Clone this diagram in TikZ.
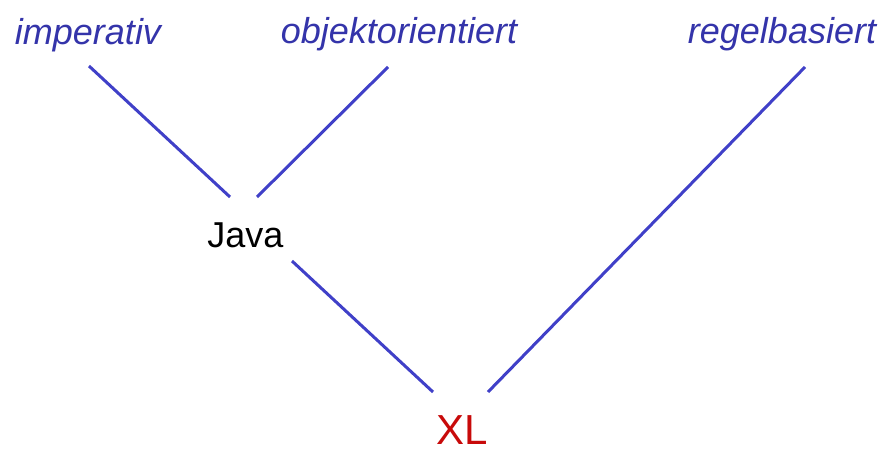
\documentclass[tikz,border=0pt]{standalone}
\usepackage{fontspec}
\setmainfont{Liberation Sans}
\definecolor{lblue}{RGB}{52,52,170}
\definecolor{lineblue}{RGB}{64,64,200}
\definecolor{xlred}{RGB}{200,10,10}
\tikzset{
  topic/.style={anchor=base, inner sep=0pt, text=lblue, font=\fontsize{36}{40}\selectfont\itshape},
  lang/.style={anchor=base, inner sep=0pt, text=black, font=\fontsize{36}{40}\selectfont},
  xl/.style={anchor=base, inner sep=0pt, text=xlred, font=\fontsize{42}{46}\selectfont},
  link/.style={draw=lineblue, line width=3pt}
}
\begin{document}
\begin{tikzpicture}[x=1pt,y=1pt]
\useasboundingbox (0,0) rectangle (883,448);
\fill[white] (0,0) rectangle (883,448);
\node[topic] (imp) at (88,403) {imperativ};
\node[topic] (obj) at (399,404) {objektorientiert};
\node[topic] (reg) at (782,404) {regelbasiert};
\node[lang] (java) at (245.5,201) {Java};
\node[xl] (xlnode) at (462,4) {XL};
\coordinate (impE) at (89,382);
\coordinate (javaNW) at (230,251);
\coordinate (objE) at (388,381);
\coordinate (javaNE) at (257,251);
\coordinate (javaSE) at (292,187);
\coordinate (xlNW) at (433,56);
\coordinate (regE) at (805,381);
\coordinate (xlNE) at (488,56);
\draw[link] (impE) -- (javaNW);
\draw[link] (objE) -- (javaNE);
\draw[link] (javaSE) -- (xlNW);
\draw[link] (regE) -- (xlNE);
\end{tikzpicture}
\end{document}
